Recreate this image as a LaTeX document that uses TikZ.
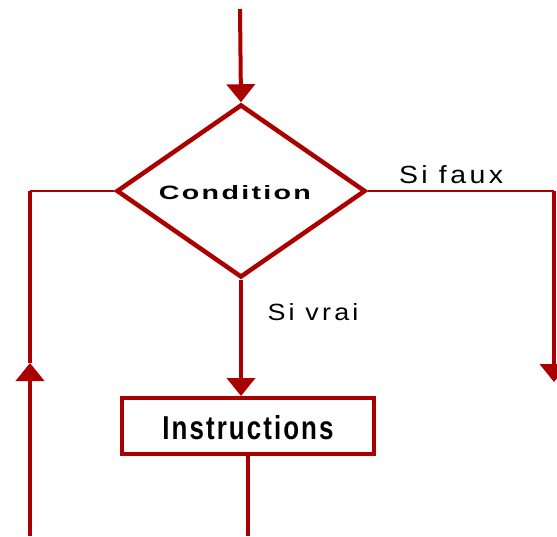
\documentclass[tikz,border=0pt]{standalone}
\usepackage{fontspec}
\setmainfont{Liberation Sans}
\newfontfamily\labfont[LetterSpace=12]{Liberation Sans}
\newfontfamily\boldlab[LetterSpace=8]{Liberation Sans Bold}
\usetikzlibrary{shapes.geometric,arrows.meta}
\definecolor{flowred}{RGB}{170,0,0}
\tikzset{
  flow/.style={draw=flowred, line width=4pt},
  thinflow/.style={draw=flowred, line width=2.5pt},
  tip/.style={-{Triangle[width=28pt,length=18pt]}},
  lbl/.style={inner sep=0pt, text=black}
}
\begin{document}
\begin{tikzpicture}[x=1pt,y=-1pt]
\useasboundingbox (0,0) rectangle (557,536);
\node[flow, line width=4.5pt, diamond, minimum width=249pt, minimum height=173pt, inner sep=0pt, fill=white] (cond) at (241,191) {};
\node[lbl] (condtxt) at (235,193) {\resizebox{152pt}{14pt}{\boldlab Condition}};
\node[flow, rectangle, minimum width=252pt, minimum height=56pt, inner sep=0pt] (box) at (248,426) {};
\node[lbl] (boxtxt) at (248,428) {\resizebox{171pt}{24pt}{\boldlab Instructions}};
\node[lbl] (faux) at (451,175) {\resizebox{104pt}{18pt}{\labfont Si faux}};
\node[lbl] (vrai) at (313,312) {\resizebox{91pt}{17pt}{\labfont Si vrai}};
% coordinates
\coordinate (top) at (240,9);
\coordinate (lc) at (30,191);
\coordinate (lm) at (30,363);
\coordinate (lb) at (30,536);
\coordinate (rc) at (554,191);
\coordinate (rb) at (554,382);
\coordinate (bb) at (box.south |- lb);
% connectors
\draw[flow,tip] (top) -- (cond.north);
\draw[flow,tip] (cond.south) -- (cond.south |- box.north);
\draw[flow] (box.south) -- (bb);
\draw[thinflow] (cond.west) -- (lc);
\draw[flow] (lc) -- (lm);
\draw[flow,tip] (lb) -- (lm);
\draw[thinflow] (cond.east) -- (rc);
\draw[flow,tip] (rc) -- (rb);
\end{tikzpicture}
\end{document}
